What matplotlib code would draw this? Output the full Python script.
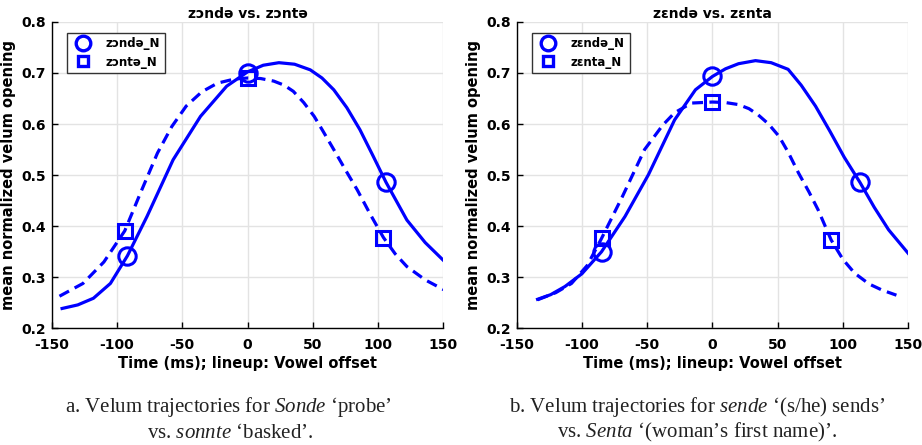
"""
Velum trajectories: zonde vs. zonte, zende vs. zenta.
"""
import matplotlib
matplotlib.use("Agg")
import matplotlib.pyplot as plt

plt.rcParams["mathtext.fontset"] = "custom"
plt.rcParams["mathtext.rm"] = "Liberation Serif"
plt.rcParams["mathtext.it"] = "Liberation Serif:italic"

# ── data ─────────────────────────────────────────────────────────────────────
# panel a: solid = zɔndə_N, dashed = zɔntə_N
a_solid_t = [-142, -130, -118, -105, -92, -77, -57, -36, -16, 0, 12, 24, 36, 48, 57, 66, 76, 86, 96, 106, 114, 122, 136, 150]
a_solid_v = [0.239, 0.246, 0.259, 0.288, 0.342, 0.419, 0.530, 0.615, 0.674, 0.702, 0.715, 0.720, 0.717, 0.706, 0.690, 0.667, 0.632, 0.589, 0.538, 0.486, 0.449, 0.412, 0.368, 0.333]
a_dash_t = [-144, -126, -110, -94, -82, -69, -58, -47, -35, -23, -10, 0, 10, 20, 28, 35, 43, 51, 58, 66, 75, 84, 94, 104, 113, 122, 136, 150]
a_dash_v = [0.263, 0.288, 0.330, 0.391, 0.465, 0.543, 0.595, 0.635, 0.663, 0.680, 0.688, 0.690, 0.689, 0.684, 0.676, 0.664, 0.642, 0.615, 0.585, 0.550, 0.510, 0.471, 0.423, 0.378, 0.346, 0.321, 0.295, 0.276]
a_circ_t = [-92, 0, 106]
a_circ_v = [0.342, 0.700, 0.487]
a_sq_t = [-94, 0, 104]
a_sq_v = [0.391, 0.690, 0.377]

# panel b: solid = zɛndə_N, dashed = zɛnta_N
b_solid_t = [-134, -124, -113, -100, -85, -67, -49, -29, -13, 0, 10, 20, 33, 45, 58, 68, 79, 90, 101, 113, 124, 135, 150]
b_solid_v = [0.257, 0.266, 0.282, 0.307, 0.350, 0.419, 0.501, 0.608, 0.667, 0.693, 0.708, 0.718, 0.724, 0.720, 0.707, 0.676, 0.635, 0.586, 0.535, 0.486, 0.437, 0.393, 0.347]
b_dash_t = [-134, -120, -108, -96, -85, -69, -52, -38, -29, -16, 0, 10, 20, 28, 35, 43, 51, 58, 66, 74, 81, 91, 100, 109, 120, 130, 141]
b_dash_v = [0.256, 0.270, 0.288, 0.323, 0.376, 0.458, 0.550, 0.598, 0.622, 0.641, 0.643, 0.642, 0.638, 0.630, 0.618, 0.600, 0.576, 0.545, 0.504, 0.467, 0.432, 0.373, 0.335, 0.308, 0.287, 0.275, 0.265]
b_circ_t = [-85, 0, 113]
b_circ_v = [0.350, 0.693, 0.486]
b_sq_t = [-85, 0, 91]
b_sq_v = [0.376, 0.643, 0.373]

xticks = [-150, -100, -50, 0, 50, 100, 150]
yticks = [0.2, 0.3, 0.4, 0.5, 0.6, 0.7, 0.8]

BLUE = "#0000ff"

fig = plt.figure(figsize=(9.22, 4.45), dpi=100)
fig.patch.set_facecolor("white")

axA = fig.add_axes([0.056, 0.262, 0.425, 0.689])
axB = fig.add_axes([0.5604, 0.262, 0.4246, 0.689])


def panel(ax, st, sv, dt, dv, ct, cv, qt, qv, title, lab_c, lab_s):
    ax.plot(st, sv, color=BLUE, lw=2.3, solid_joinstyle="round", zorder=3)
    ax.plot(dt, dv, color=BLUE, lw=2.3, ls=(0, (3.4, 2.0)), zorder=3)
    ax.plot(ct, cv, ls="none", marker="o", ms=12.5, mfc="none", mec=BLUE, mew=2.2, zorder=4)
    ax.plot(qt, qv, ls="none", marker="s", ms=10, mfc="none", mec=BLUE, mew=2.2, zorder=4)
    # legend proxies
    hc, = ax.plot([], [], ls="none", marker="o", ms=10.5, mfc="none", mec=BLUE, mew=2.4)
    hs, = ax.plot([], [], ls="none", marker="s", ms=7.5, mfc="none", mec=BLUE, mew=2.4)
    leg = ax.legend([hc, hs], [lab_c, lab_s], loc="upper left",
                    bbox_to_anchor=(0.039, 0.965), fancybox=False, framealpha=1,
                    edgecolor="#333333", handlelength=2.0, handletextpad=0.9,
                    borderpad=0.4, labelspacing=0.45, borderaxespad=0,
                    prop={"weight": "bold", "size": 8.5})
    leg.get_frame().set_linewidth(1.0)

    ax.set_xlim(-150, 150)
    ax.set_ylim(0.2, 0.8)
    ax.set_xticks(xticks)
    ax.set_yticks(yticks)
    ax.set_xticklabels([str(t) for t in xticks], fontweight="bold", fontsize=10)
    ax.set_yticklabels([f"{t:.1f}" for t in yticks], fontweight="bold", fontsize=10)
    ax.grid(True, color="#e3e3e3", lw=1.0, zorder=0)
    ax.set_axisbelow(True)
    ax.tick_params(direction="in", length=4, width=1)
    ax.tick_params(axis="x", pad=7)
    ax.tick_params(axis="y", pad=4)
    for side in ("top", "right"):
        ax.spines[side].set_visible(False)
    for side in ("left", "bottom"):
        ax.spines[side].set_linewidth(1.0)
    ax.set_title(title, fontweight="bold", fontsize=10, pad=3)
    ax.set_xlabel("Time (ms); lineup: Vowel offset", fontweight="bold", fontsize=10.5, labelpad=3)
    ax.set_ylabel("mean normalized velum opening", fontweight="bold", fontsize=10.5, labelpad=4)


panel(axA, a_solid_t, a_solid_v, a_dash_t, a_dash_v, a_circ_t, a_circ_v,
      a_sq_t, a_sq_v, "zɔndə vs. zɔntə", "zɔndə_N", "zɔntə_N")
panel(axB, b_solid_t, b_solid_v, b_dash_t, b_dash_v, b_circ_t, b_circ_v,
      b_sq_t, b_sq_v, "zɛndə vs. zɛnta", "zɛndə_N", "zɛnta_N")

# captions
cap = dict(ha="center", va="baseline", fontsize=15, family="Liberation Serif", color="#222222")
y1, y2 = 1 - 412 / 445, 1 - 437.5 / 445
fig.text(0.248, y1, "a. Velum trajectories for $\\it{Sonde}$ \u2018probe\u2019", **cap)
fig.text(0.250, y2, "vs. $\\it{sonnte}$ \u2018basked\u2019.", **cap)
fig.text(0.756, y1, "b. Velum trajectories for $\\it{sende}$ \u2018(s/he) sends\u2019", **cap)
fig.text(0.756, y2, "vs. $\\it{Senta}$ \u2018(woman\u2019s first name)\u2019.", **cap)

plt.savefig("out.png", dpi=100, facecolor="white")
plt.close()
